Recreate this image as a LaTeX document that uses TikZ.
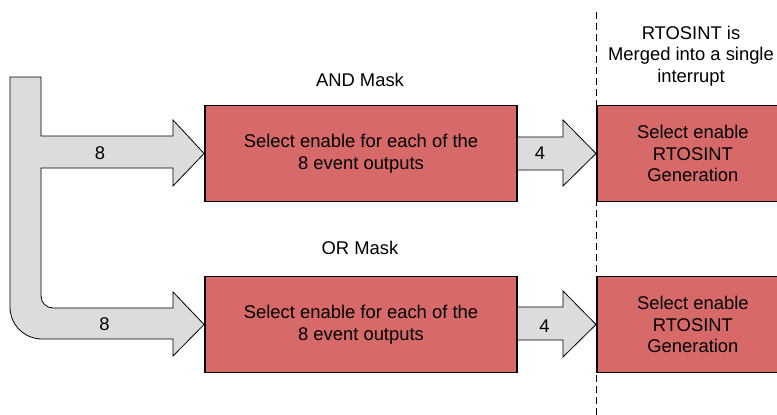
\documentclass[tikz,border=0pt]{standalone}
\usepackage{fontspec}
\setmainfont{Liberation Sans}
\definecolor{boxred}{RGB}{215,105,105}
\definecolor{arrowgray}{RGB}{220,220,220}
\begin{document}
\begin{tikzpicture}[x=1pt,y=-1pt,
  redbox/.style={draw=black, line width=1.8pt, fill=boxred, minimum width=312pt, minimum height=96pt, inner sep=0pt, align=center, font=\fontsize{18.4}{21.7}\selectfont},
  rtbox/.style={draw=black, line width=1.8pt, fill=boxred, minimum width=192pt, minimum height=96pt, inner sep=0pt, align=center, font=\fontsize{18.4}{21.7}\selectfont},
  busarrow/.style={draw=black, line width=0.8pt, fill=arrowgray, line join=miter},
  lbl/.style={font=\fontsize{18.4}{21.7}\selectfont, inner sep=0pt, align=center}]
\useasboundingbox (0,0) rectangle (777,415);
% dashed divider
\coordinate (dtop) at (596,12);
\coordinate (dbot) at (596,415);
\draw[line width=1pt, dash pattern=on 7pt off 4pt] (dtop) -- (dbot);
% boxes
\node[redbox] (andbox) at (361,153.5) {Select enable for each of the\\8 event outputs};
\node[redbox] (orbox) at (361,324.5) {Select enable for each of the\\8 event outputs};
\node[rtbox, anchor=west] (rt1) at (596,153.5) {Select enable\\RTOSINT\\Generation};
\node[rtbox, anchor=west] (rt2) at (596,324.5) {Select enable\\RTOSINT\\Generation};
% input bus
\coordinate (bustop) at (10,77);
\draw[busarrow] (bustop) -- (41,77) -- (41,136) -- (173,136) -- (173,120) -- (andbox.west)
  -- (173,186) -- (173,168) -- (41,168) -- (41,296) arc[start angle=180, end angle=90, radius=12]
  -- (173,308) -- (173,292) -- (orbox.west) -- (173,356) -- (173,339) -- (42,339)
  arc[start angle=90, end angle=180, radius=32] -- cycle;
% 4-bit arrows
\draw[busarrow] (andbox.east |- 0,137) -- (563,137) -- (563,120) -- (rt1.west) -- (563,186) -- (563,170) -- (andbox.east |- 0,170);
\draw[busarrow] (orbox.east |- 0,307) -- (563,307) -- (563,291) -- (rt2.west) -- (563,357) -- (563,340) -- (orbox.east |- 0,340);
% labels
\node[lbl] (l8a) at (100,153) {8};
\node[lbl] (l8b) at (104.5,324) {8};
\node[lbl] (l4a) at (540,153) {4};
\node[lbl] (l4b) at (544.5,326) {4};
\node[lbl] (andlbl) at (360,80) {AND Mask};
\node[lbl] (orlbl) at (360,248) {OR Mask};
\node[lbl] (merged) at (691,56) {RTOSINT is\\Merged into a single\\interrupt};
\end{tikzpicture}
\end{document}
